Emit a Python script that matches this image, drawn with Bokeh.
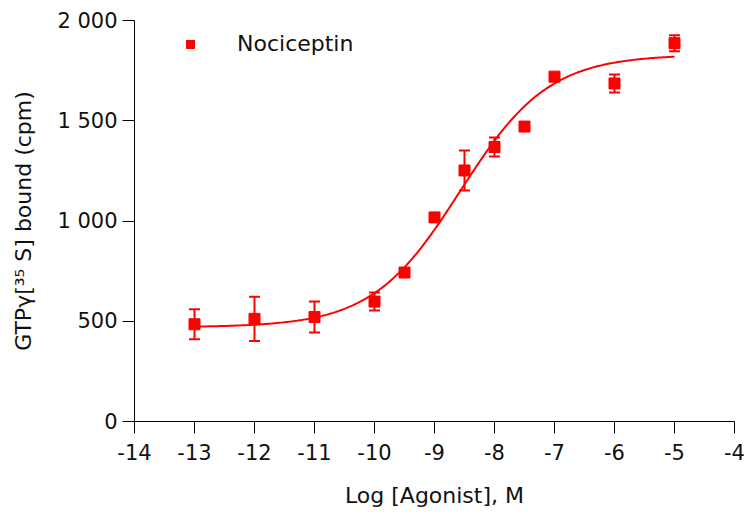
from bokeh.plotting import figure
from bokeh.models import (ColumnDataSource, Whisker, TeeHead, FixedTicker,
                          Range1d, Legend, LegendItem)
from bokeh.embed import file_html
from bokeh.resources import INLINE
import numpy as np

# ---- data ----
log_agonist = [-13, -12, -11, -10, -9.5, -9, -8.5, -8, -7.5, -7, -6, -5]
gtp_bound = [485, 512, 521, 598, 743, 1018, 1252, 1369, 1471, 1720, 1686, 1887]
sem = [75, 110, 77, 45, 0, 0, 100, 47, 0, 0, 45, 40]

# sigmoidal fit parameters (four-parameter logistic)
fit_bottom = 470
fit_top = 1830
fit_logec50 = -8.57
fit_hill = 0.59
fit_x_min, fit_x_max = -13, -5

x_ticks = [-14, -13, -12, -11, -10, -9, -8, -7, -6, -5, -4]
x_tick_labels = ["-14", "-13", "-12", "-11", "-10", "-9", "-8", "-7", "-6", "-5", "-4"]
y_ticks = [0, 500, 1000, 1500, 2000]
y_tick_labels = ["0", "500", "1 000", "1 500", "2 000"]

series_name = "Nociceptin"
x_title = "Log [Agonist], M"
y_title = "GTPγ[³⁵ S] bound (cpm)"

RED = "#ff0000"
FONT = "DejaVu Sans"

p = figure(width=746, height=519, output_backend="svg", toolbar_location=None,
           x_range=Range1d(-14, -4), y_range=Range1d(0, 2000),
           min_border_left=134, min_border_right=12,
           min_border_top=20, min_border_bottom=98)
p.outline_line_color = None
p.grid.visible = False
p.background_fill_color = "white"
p.border_fill_color = "white"

# fitted curve
xf = np.linspace(fit_x_min, fit_x_max, 400)
yf = fit_bottom + (fit_top - fit_bottom) / (1 + 10 ** ((fit_logec50 - xf) * fit_hill))
p.line(xf, yf, line_color=RED, line_width=2)

# error bars (only where visible)
eb = [(x, y, e) for x, y, e in zip(log_agonist, gtp_bound, sem) if e > 0]
err_src = ColumnDataSource(dict(
    x=[a for a, _, _ in eb],
    upper=[b + c for _, b, c in eb],
    lower=[b - c for _, b, c in eb]))
w = Whisker(base="x", upper="upper", lower="lower", source=err_src,
            line_color=RED, line_width=2,
            upper_head=TeeHead(size=11, line_color=RED, line_width=2),
            lower_head=TeeHead(size=11, line_color=RED, line_width=2))
p.add_layout(w)

src = ColumnDataSource(dict(x=log_agonist, y=gtp_bound))
r = p.scatter("x", "y", source=src, marker="square", size=11,
              fill_color=RED, line_color=RED)

legend = Legend(items=[LegendItem(label=series_name, renderers=[r])],
                location=(46, 365), padding=0, margin=0, spacing=0,
                glyph_width=20, glyph_height=20, label_standoff=37,
                border_line_color=None, background_fill_alpha=0,
                label_text_font=FONT, label_text_font_size="22px",
                label_text_color="#111111")
p.add_layout(legend, "center")

for ax in (p.xaxis[0], p.yaxis[0]):
    ax.axis_line_color = "black"
    ax.axis_line_width = 1
    ax.major_tick_line_color = "black"
    ax.major_tick_line_width = 1
    ax.major_tick_out = 12
    ax.major_tick_in = 0
    ax.minor_tick_line_color = None
    ax.major_label_text_font = FONT
    ax.major_label_text_font_size = "21px"
    ax.major_label_text_color = "#111111"
    ax.axis_label_text_font = FONT
    ax.axis_label_text_font_size = "22px"
    ax.axis_label_text_font_style = "normal"
    ax.axis_label_text_color = "#111111"

p.xaxis.ticker = FixedTicker(ticks=x_ticks)
p.xaxis.major_label_overrides = dict(zip(x_ticks, x_tick_labels))
p.xaxis.axis_label = x_title
p.xaxis.major_label_standoff = 10
p.xaxis.axis_label_standoff = 20

p.yaxis.ticker = FixedTicker(ticks=y_ticks)
p.yaxis.major_label_overrides = dict(zip(y_ticks, y_tick_labels))
p.yaxis.axis_label = y_title
p.yaxis.major_label_standoff = 5
p.yaxis.axis_label_standoff = 18

open("out.html", "w").write(file_html(p, INLINE))
